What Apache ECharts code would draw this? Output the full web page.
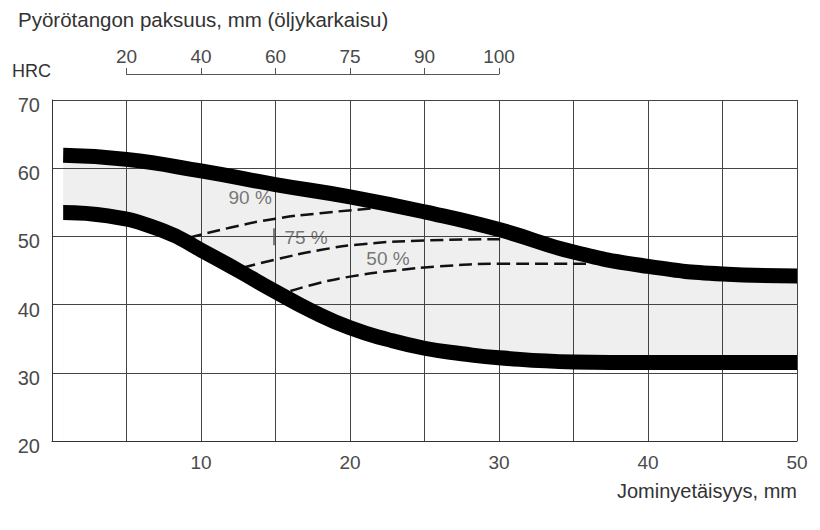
<!DOCTYPE html>
<html>
<head>
<meta charset="utf-8">
<script src="https://cdn.jsdelivr.net/npm/echarts@6/dist/echarts.min.js"></script>
<style>
  html, body { margin: 0; padding: 0; background: #fff; }
  #chart { width: 820px; height: 530px; }
</style>
</head>
<body>
<div id="chart"></div>
<script>
// Jominy hardenability band — HRC vs Jominy distance
var font = 'Liberation Sans';

// upper and lower band limits (HRC) at Jominy distances (mm)
var upperX = [0.75, 5, 10, 15, 20, 25, 30, 35, 40, 45, 50];
var upperHRC = [61.9, 61.3, 59.6, 57.6, 55.8, 53.6, 51.0, 47.7, 45.6, 44.5, 44.2];
var lowerX = [0.75, 3.75, 7.5, 10, 12.5, 15, 17.5, 20, 22.5, 25, 27.5, 30, 35, 40, 45, 50];
var lowerHRC = [53.5, 53.0, 50.8, 48.0, 45.0, 41.9, 39.0, 36.6, 34.9, 33.6, 32.8, 32.2, 31.6, 31.5, 31.5, 31.5];

// martensite-percentage curves
var curve90 = [[9.2, 49.8], [12, 51.3], [15, 52.6], [18, 53.4], [21.5, 54.1]];
var curve75 = [[12.8, 45.4], [15, 46.6], [18, 48.0], [21, 48.9], [25, 49.4], [30.3, 49.6]];
var curve50 = [[16, 42.0], [18, 43.2], [20, 44.1], [23, 45.0], [26, 45.6], [30, 46.0], [36.1, 46.0]];
var curveLabels = [
  { name: '90 %', value: [13.3, 55.7] },
  { name: '75 %', value: [17.05, 49.9] },
  { name: '50 %', value: [22.55, 46.8] }
];
var arrow75 = [[14.9, 51.2], [14.9, 48.7]];

// top axis: round bar diameter (mm) matched to Jominy distance
var barPos = [5, 10, 15, 20, 25, 30];
var barDiam = ['20', '40', '60', '75', '90', '100'];

function pairs(xs, ys) {
  return xs.map(function (x, i) { return [x, ys[i]]; });
}
var upperPts = pairs(upperX, upperHRC);
var lowerPts = pairs(lowerX, lowerHRC);
var SMOOTH = 0.5;
var textCol = '#4a4a4a';

var chart = echarts.init(document.getElementById('chart'), null, { renderer: 'svg' });
chart.setOption({
  animation: false,
  textStyle: { fontFamily: font, fontWeight: 'normal' },
  title: {
    text: 'Pyörötangon paksuus, mm (öljykarkaisu)',
    left: 13, top: 4,
    textStyle: { fontFamily: font, fontSize: 20.5, fontWeight: 'normal', color: '#333' }
  },
  graphic: [
    { type: 'text', left: 12, top: 62, style: { text: 'HRC', font: '18px ' + font, fill: '#333' } },
    { type: 'text', right: 23, top: 481, style: { text: 'Jominyetäisyys, mm', font: '20px ' + font, fill: '#333' } }
  ],
  grid: [
    { left: 52, right: 23, top: 100, bottom: 89 },
    { left: 126.5, width: 372.5, top: 73, height: 1 }
  ],
  xAxis: [
    {
      type: 'value', gridIndex: 0, min: 0, max: 50, interval: 5, z: 3,
      axisLine: { lineStyle: { color: '#333', width: 1 } },
      axisTick: { show: false },
      splitLine: { lineStyle: { color: '#444', width: 1 } },
      axisLabel: {
        color: textCol, fontSize: 19, fontWeight: 'normal', margin: 12,
        formatter: function (v) { return (v > 0 && v % 10 === 0) ? String(v) : ''; }
      }
    },
    {
      type: 'value', gridIndex: 1, position: 'top', min: 5, max: 30, interval: 5,
      axisLine: { lineStyle: { color: '#555', width: 1 } },
      axisTick: { show: true, length: 6, lineStyle: { color: '#555' } },
      splitLine: { show: false },
      axisLabel: {
        color: textCol, fontSize: 19, fontWeight: 'normal', margin: 7,
        formatter: function (v) { var i = barPos.indexOf(v); return i >= 0 ? barDiam[i] : ''; }
      }
    }
  ],
  yAxis: [
    {
      type: 'value', gridIndex: 0, min: 20, max: 70, interval: 10, z: 3,
      axisLine: { show: true, lineStyle: { color: '#333', width: 1 } },
      axisTick: { show: false },
      splitLine: { lineStyle: { color: '#444', width: 1 } },
      axisLabel: {
        color: textCol, fontSize: 20, fontWeight: 'normal', margin: 12,
        verticalAlign: 'top', lineHeight: 10
      }
    },
    { type: 'value', gridIndex: 1, show: false }
  ],
  series: [
    // grey band: upper area filled down to 20, then lower area masks it in white
    {
      type: 'line', data: upperPts, smooth: SMOOTH, symbol: 'none', silent: true,
      lineStyle: { width: 0, opacity: 0 }, areaStyle: { color: '#efefef', opacity: 1 }, z: 1
    },
    {
      type: 'line', data: lowerPts, smooth: SMOOTH, symbol: 'none', silent: true,
      lineStyle: { width: 0, opacity: 0 }, areaStyle: { color: '#ffffff', opacity: 1 }, z: 1
    },
    {
      type: 'line', data: curve90, smooth: SMOOTH, symbol: 'none',
      lineStyle: { color: '#111', width: 2.5, type: [13, 6] }, z: 4
    },
    {
      type: 'line', data: curve75, smooth: SMOOTH, symbol: 'none',
      lineStyle: { color: '#111', width: 2.5, type: [13, 6] }, z: 4
    },
    {
      type: 'line', data: curve50, smooth: SMOOTH, symbol: 'none',
      lineStyle: { color: '#111', width: 2.5, type: [13, 6] }, z: 4
    },
    {
      type: 'line', data: arrow75, symbol: 'none',
      lineStyle: { color: '#555', width: 1.5 }, z: 4
    },
    {
      type: 'line', data: upperPts, smooth: SMOOTH, symbol: 'none',
      lineStyle: { color: '#000', width: 15, cap: 'butt' }, z: 5
    },
    {
      type: 'line', data: lowerPts, smooth: SMOOTH, symbol: 'none',
      lineStyle: { color: '#000', width: 15, cap: 'butt' }, z: 5
    },
    {
      type: 'scatter', data: curveLabels, symbolSize: 0, silent: true, z: 6,
      label: {
        show: true, position: 'inside', formatter: '{b}',
        fontFamily: font, fontSize: 19, fontWeight: 'normal', color: '#555'
      }
    }
  ]
});
</script>
</body>
</html>
